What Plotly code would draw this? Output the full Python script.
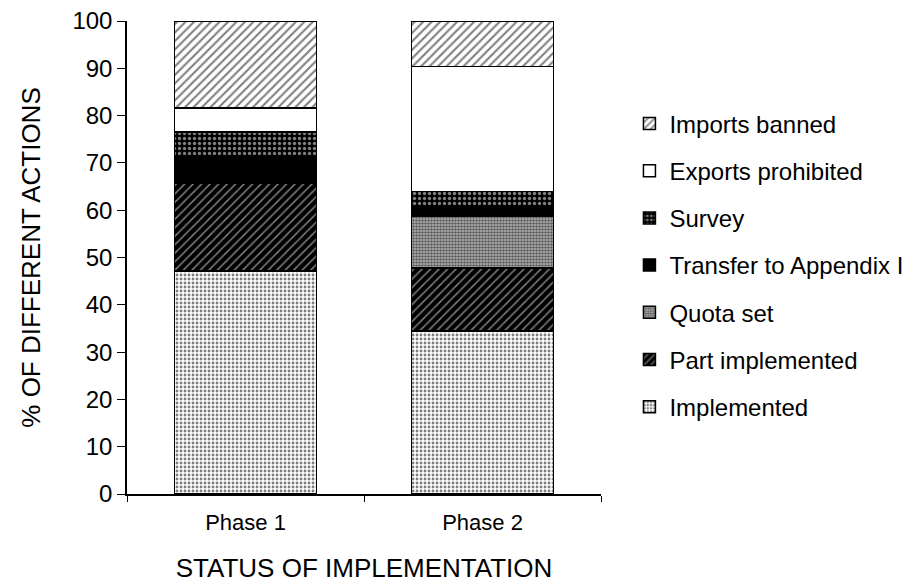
import plotly.graph_objects as go

phases = ["Phase 1", "Phase 2"]

implemented = [47.1, 34.5]
part_implemented = [18.7, 13.3]
quota_set = [0.0, 11.0]
transfer_app1 = [5.7, 2.0]
survey = [5.0, 3.2]
exports_prohibited = [5.1, 26.4]
imports_banned = [18.4, 9.6]

y_ticks = [0, 10, 20, 30, 40, 50, 60, 70, 80, 90, 100]

FONT = "Liberation Sans"

series = [
    ("Implemented", implemented, dict(shape=".", fgcolor="black", bgcolor="white", size=4, solidity=0.4)),
    ("Part implemented", part_implemented, dict(shape="/", fgcolor="white", bgcolor="black", size=6, solidity=0.25)),
    ("Quota set", quota_set, dict(shape=".", fgcolor="black", bgcolor="#bbbbbb", size=3, solidity=0.6)),
    ("Transfer to Appendix I", transfer_app1, dict(shape="", fgcolor="black", bgcolor="black")),
    ("Survey", survey, dict(shape=".", fgcolor="white", bgcolor="black", size=5, solidity=0.35)),
    ("Exports prohibited", exports_prohibited, dict(shape="", fgcolor="white", bgcolor="white")),
    ("Imports banned", imports_banned, dict(shape="/", fgcolor="black", bgcolor="white", size=6, solidity=0.35)),
]

fig = go.Figure()
for i, (name, vals, pat) in enumerate(series):
    fig.add_trace(go.Bar(
        x=phases,
        y=vals,
        name=name,
        legendgroup=str(i),
        legendrank=1000 - 10 * i,  # top segment first in legend
        width=0.6,
        marker=dict(
            color=pat["bgcolor"],
            pattern=pat,
            line=dict(color="black", width=1.5),
        ),
    ))

# page body has an 8px offset, so margins are shifted by that amount
fig.update_layout(
    barmode="stack",
    width=916,
    height=586,
    margin=dict(l=119, r=323, t=13, b=100),
    paper_bgcolor="white",
    plot_bgcolor="white",
    font=dict(family=FONT, color="black"),
    legend=dict(
        traceorder="grouped",
        x=1.06,
        y=0.83,
        xanchor="left",
        yanchor="top",
        font=dict(size=24, family=FONT),
        tracegroupgap=13,
        bgcolor="rgba(0,0,0,0)",
    ),
    xaxis=dict(
        title=dict(text="STATUS OF IMPLEMENTATION", font=dict(size=26), standoff=25),
        automargin=False,
        tickson="boundaries",
        ticks="outside",
        ticklen=6,
        tickcolor="black",
        ticklabelstandoff=8,
        showline=True,
        linecolor="black",
        linewidth=1.5,
        tickfont=dict(size=22),
        showgrid=False,
    ),
    yaxis=dict(
        title=dict(text="% OF DIFFERENT ACTIONS", font=dict(size=26), standoff=24),
        automargin="left",
        range=[0, 100],
        tickvals=y_ticks,
        ticks="outside",
        ticklen=8,
        tickcolor="black",
        ticklabeloverflow="allow",
        showline=True,
        linecolor="black",
        linewidth=1.5,
        tickfont=dict(size=24),
        showgrid=False,
        zeroline=False,
    ),
)

fig.write_html("out.html")
